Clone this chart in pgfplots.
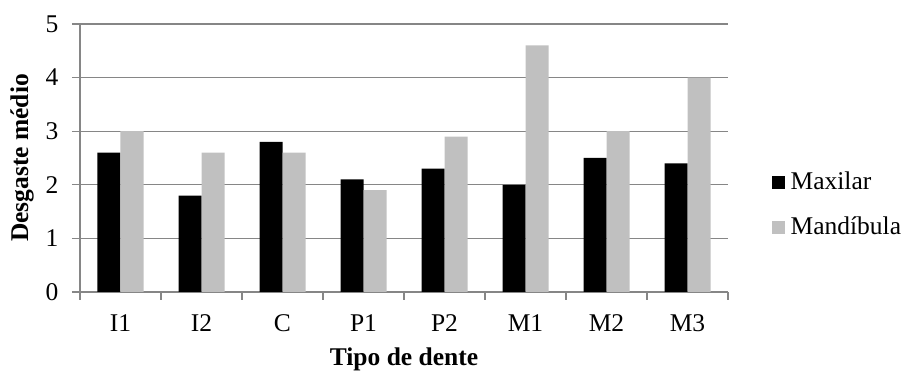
\documentclass[border=0pt]{standalone}
\usepackage{fontspec}
\setmainfont{Liberation Serif}
\usepackage{pgfplots}
\pgfplotsset{compat=1.18}
\definecolor{axgray}{HTML}{868686}
\definecolor{bargray}{HTML}{C0C0C0}
\begin{document}
\fontsize{25.5}{30}\selectfont
\begin{tikzpicture}
\begin{axis}[
  name=ax, at={(0pt,0pt)}, anchor=south west,
  width=648pt, height=268pt, scale only axis,
  ymin=0, ymax=5, xmin=-0.5, xmax=7.5,
  xtick={0,...,7},
  xticklabels={I1,I2,C,P1,P2,M1,M2,M3},
  minor xtick={-0.5,0.5,...,7.5},
  major x tick style={draw=none},
  ytick={0,...,5},
  ymajorgrids,
  grid style={axgray, line width=1.3pt},
  axis x line*=bottom, axis y line*=left,
  axis line style={axgray, line width=1.3pt},
  every tick/.style={axgray, line width=1.3pt},
  minor x tick style={axgray, line width=1.3pt},
  tick align=outside,
  major tick length=8pt, minor tick length=8pt,
  ybar=0pt, bar width=23pt,
  /pgf/number format/assume math mode=true,
  tick label style={font=\fontsize{25.5}{30}\selectfont},
  xticklabel style={yshift=-6pt},
  yticklabel style={xshift=-5pt},
  xlabel={\bfseries Tipo de dente},
  ylabel={\bfseries Desgaste médio},
  xlabel style={at={(axis description cs:0.5,-0.25)}, anchor=center, font=\fontsize{25.5}{30}\selectfont},
  ylabel style={at={(axis description cs:-0.0895,0.5)}, anchor=center, font=\fontsize{25.5}{30}\selectfont},
  legend style={at={(axis description cs:1.067,0.325)}, anchor=west, draw=none, fill=none,
    font=\fontsize{25.5}{30}\selectfont, row sep=19pt, inner sep=0pt,
    nodes={inner xsep=6pt}},
  legend cell align=left,
  legend image code/.code={\fill[#1] (0pt,-6.5pt) rectangle (13pt,6.5pt);},
]
\addplot[fill=black, draw=none] coordinates {(0,2.6) (1,1.8) (2,2.8) (3,2.1) (4,2.3) (5,2.0) (6,2.5) (7,2.4)};
\addplot[fill=bargray, draw=none] coordinates {(0,3.0) (1,2.6) (2,2.6) (3,1.9) (4,2.9) (5,4.6) (6,3.0) (7,4.0)};
\legend{Maxilar, Mandíbula}
\end{axis}
\pgfresetboundingbox
\path ([shift={(-80pt,-81pt)}]ax.south west) rectangle ([shift={(178pt,24pt)}]ax.north east);
\end{tikzpicture}
\end{document}
